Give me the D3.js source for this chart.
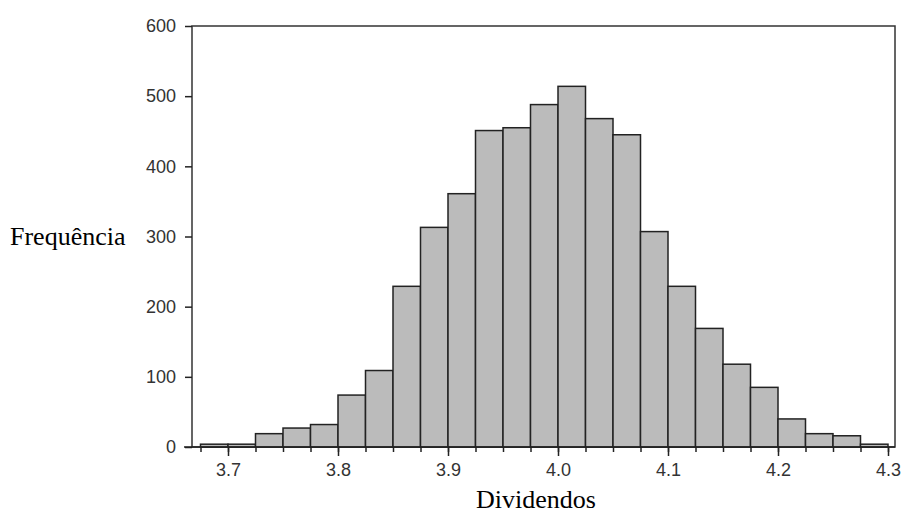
<!DOCTYPE html>
<meta charset="utf-8">
<style>
body { margin: 0; background: #fff; }
.title { font: 26px "Liberation Serif", "Times New Roman", serif; fill: #000; }
</style>
<svg width="904" height="514"></svg>
<script src="https://d3js.org/d3.v7.min.js"></script>
<script>

// bin edges start at 3.675, width 0.025
var binStart = 3.675,
    binWidth = 0.025;
var counts = [4, 4, 19, 27, 32, 74, 109, 229, 313, 361, 451, 455, 488, 514, 468, 445, 307, 229, 169, 118, 85, 40, 19, 16, 4];
var xTicks = [3.7, 3.8, 3.9, 4.0, 4.1, 4.2, 4.3];
var yTicks = [0, 100, 200, 300, 400, 500, 600];

var svg = d3.select("svg"),
    mLeft = 192, mRight = 895, mTop = 26, mBottom = 447;

var x = d3.scaleLinear()
    .domain([3.7, 4.3])
    .range([228, 888]);

var y = d3.scaleLinear()
    .domain([0, 600])
    .range([mBottom, mTop]);

var bins = counts.map(function(c, i) {
  return { x0: binStart + i * binWidth, x1: binStart + (i + 1) * binWidth, n: c };
});

function styleAxis(g) {
  g.select(".domain").remove();
  g.attr("font-family", "'Liberation Sans', Arial, sans-serif").attr("font-size", 18);
  g.selectAll("line").attr("stroke", "#222").attr("stroke-width", 1.5);
  g.selectAll("text").attr("fill", "#333");
}

// frame
svg.append("rect")
    .attr("x", mLeft)
    .attr("y", mTop)
    .attr("width", mRight - mLeft)
    .attr("height", mBottom - mTop)
    .attr("fill", "none")
    .attr("stroke", "#333")
    .attr("stroke-width", 1.5);

svg.append("g").selectAll("rect")
  .data(bins)
  .enter().append("rect")
    .attr("x", function(d) { return x(d.x0); })
    .attr("y", function(d) { return y(d.n); })
    .attr("width", function(d) { return x(d.x1) - x(d.x0); })
    .attr("height", function(d) { return y(0) - y(d.n); })
    .attr("fill", "#bbbbbb")
    .attr("stroke", "#222")
    .attr("stroke-width", 1.5);

// minor ticks at every bin edge
var edges = bins.map(function(d) { return d.x0; }).concat([bins[bins.length - 1].x1]);
svg.append("g")
    .attr("transform", "translate(0," + mBottom + ")")
    .call(d3.axisBottom(x).tickValues(edges).tickSize(5).tickFormat(""))
    .call(styleAxis);

svg.append("g")
    .attr("transform", "translate(0," + mBottom + ")")
    .call(d3.axisBottom(x).tickValues(xTicks).tickSize(9).tickPadding(7).tickFormat(d3.format(".1f")))
    .call(styleAxis);

svg.append("line")
    .attr("x1", 184).attr("x2", mRight)
    .attr("y1", mBottom).attr("y2", mBottom)
    .attr("stroke", "#222").attr("stroke-width", 1.5);

svg.append("g")
    .attr("transform", "translate(" + mLeft + ",0)")
    .call(d3.axisLeft(y).tickValues(yTicks).tickSize(7).tickPadding(9))
    .call(styleAxis);

svg.append("text")
    .attr("class", "title")
    .attr("x", 10)
    .attr("y", 245)
    .text("Frequência");

svg.append("text")
    .attr("class", "title")
    .attr("x", 536)
    .attr("y", 508)
    .attr("text-anchor", "middle")
    .text("Dividendos");

</script>
